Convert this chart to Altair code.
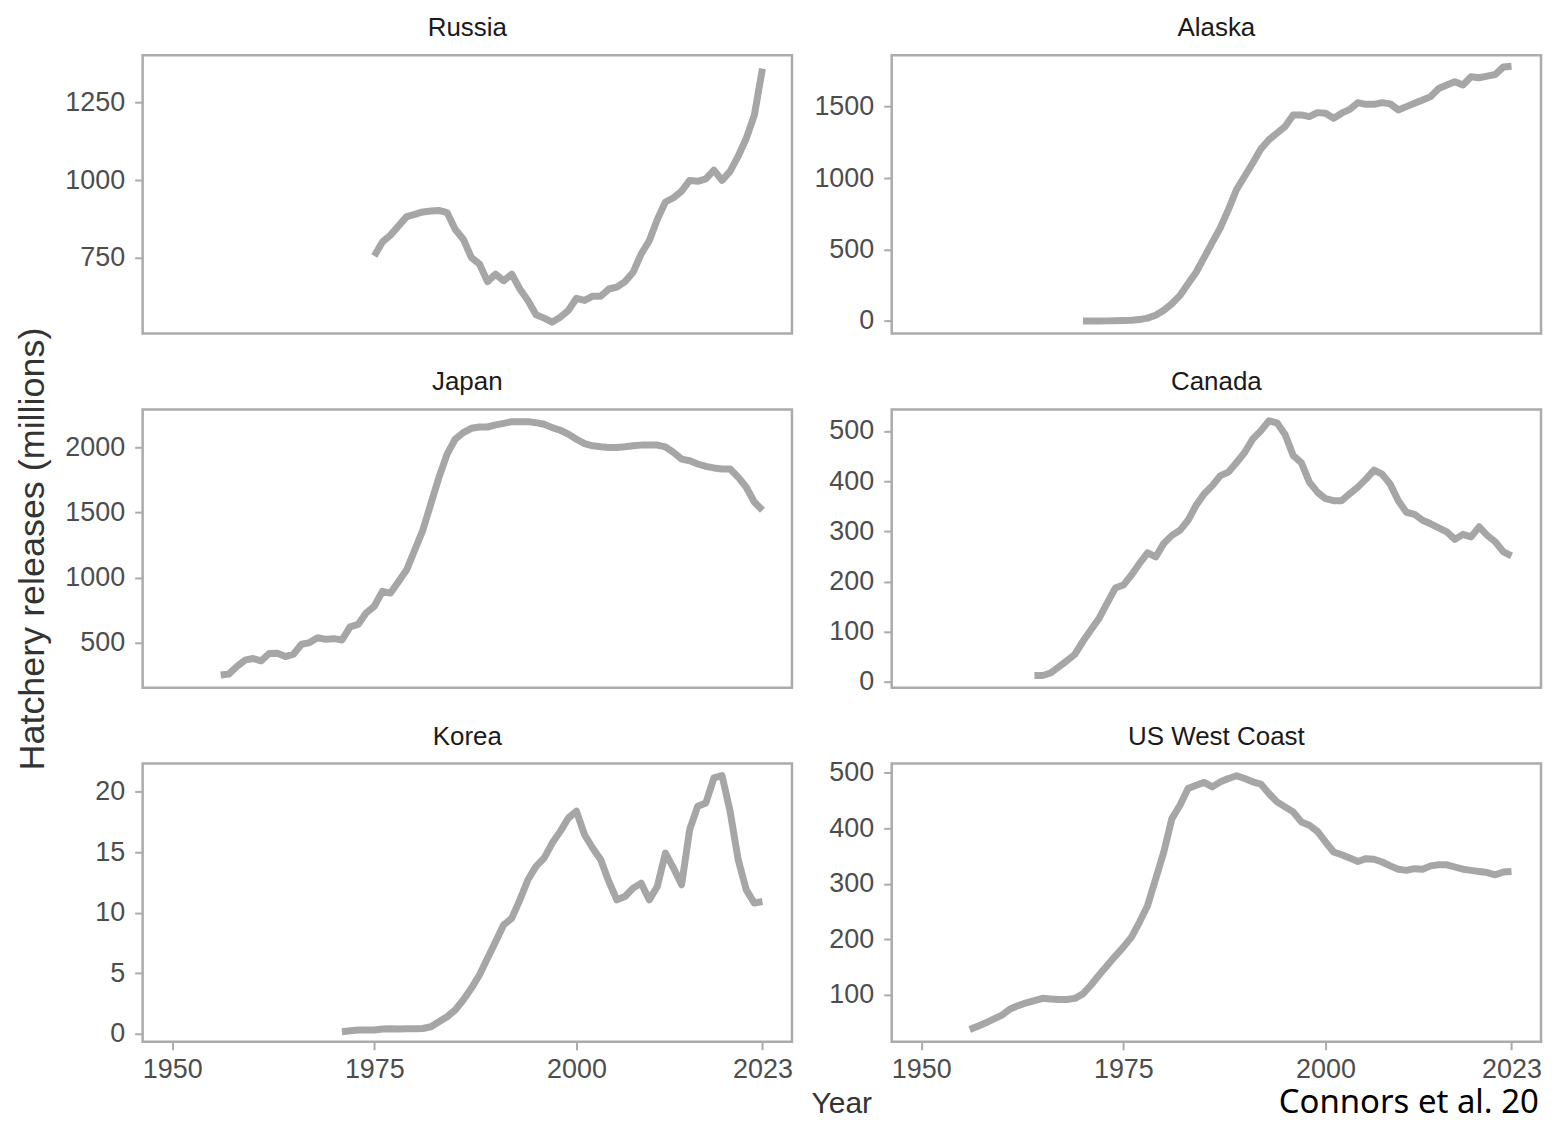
import altair as alt
import pandas as pd

FONT = "Liberation Sans"
LINE_COLOR = "#a6a6a6"
FRAME = "#ababab"

# ---- data (millions of hatchery releases) ----
russia_start = 1975
russia = [755, 800, 822, 852, 882, 889, 897, 900, 902, 895,
          841, 809, 750, 729, 672, 696, 675, 696, 648, 611,
          565, 554, 541, 557, 579, 618, 611, 625, 625, 648,
          654, 672, 702, 761, 804, 873, 929, 943, 964, 999,
          996, 1004, 1032, 999, 1028, 1077, 1135, 1210, 1360]

alaska_start = 1970
alaska = [0, 0, 0, 1, 2, 3, 5, 10, 20, 40,
          75, 121, 179, 260, 341, 445, 550, 654, 781, 920,
          1013, 1106, 1203, 1268, 1315, 1361, 1442, 1442, 1430, 1458,
          1454, 1419, 1454, 1481, 1528, 1516, 1516, 1528, 1519, 1477,
          1500, 1523, 1546, 1570, 1627, 1651, 1674, 1651, 1709, 1702,
          1713, 1725, 1778, 1783]

japan_start = 1956
japan = [254, 261, 320, 368, 381, 363, 419, 421, 396, 414,
         490, 503, 541, 528, 533, 523, 624, 642, 731, 782,
         896, 883, 972, 1061, 1213, 1366, 1569, 1772, 1949, 2063,
         2114, 2147, 2157, 2157, 2173, 2185, 2198, 2198, 2198, 2190,
         2178, 2152, 2132, 2102, 2063, 2030, 2013, 2005, 2000, 2000,
         2005, 2013, 2018, 2018, 2018, 2005, 1962, 1911, 1898, 1873,
         1855, 1843, 1835, 1835, 1772, 1695, 1581, 1518]

canada_start = 1964
canada = [13, 13, 18, 30, 42, 55, 81, 104, 127, 157,
          187, 193, 213, 236, 257, 249, 276, 292, 302, 322,
          352, 375, 391, 411, 418, 437, 457, 484, 500, 520,
          516, 493, 451, 437, 398, 378, 365, 361, 361, 375,
          388, 404, 422, 414, 394, 361, 338, 334, 322, 315,
          307, 299, 284, 294, 289, 309, 292, 279, 259, 251]

korea_start = 1971
korea = [0.14, 0.22, 0.28, 0.28, 0.28, 0.36, 0.39, 0.36, 0.39, 0.39,
         0.41, 0.55, 0.97, 1.38, 1.94, 2.77, 3.73, 4.84, 6.22, 7.6,
         8.99, 9.54, 11.06, 12.72, 13.83, 14.52, 15.76, 16.73, 17.84, 18.39,
         16.45, 15.35, 14.38, 12.58, 11.06, 11.34, 12.03, 12.44, 11.06, 12.17,
         14.93, 13.69, 12.31, 16.87, 18.81, 19.08, 21.16, 21.35, 18.39, 14.38,
         11.89, 10.79, 10.92]

uswc_start = 1956
uswc = [38, 44, 50, 57, 64, 75, 81, 86, 90, 94,
        93, 92, 92, 94, 102, 118, 136, 153, 170, 186,
        204, 231, 261, 309, 357, 417, 441, 471, 477, 482,
        474, 483, 489, 494, 489, 483, 479, 462, 447, 438,
        429, 411, 405, 394, 375, 357, 352, 346, 340, 345,
        344, 339, 332, 326, 324, 327, 326, 332, 334, 334,
        330, 326, 324, 322, 320, 316, 321, 322]

x_domain = [1946.35, 2026.65]
x_ticks = [1950, 1975, 2000, 2023]

y_domains = {
    "Russia": [504, 1403],
    "Alaska": [-88, 1859],
    "Japan": [157, 2292],
    "Canada": [-11.3, 542.8],
    "Korea": [-0.69, 22.35],
    "US West Coast": [16, 516],
}
y_ticks = {
    "Russia": [750, 1000, 1250],
    "Alaska": [0, 500, 1000, 1500],
    "Japan": [500, 1000, 1500, 2000],
    "Canada": [0, 100, 200, 300, 400, 500],
    "Korea": [0, 5, 10, 15, 20],
    "US West Coast": [100, 200, 300, 400, 500],
}

y_title = "Hatchery releases (millions)"
x_title = "Year"
caption = "Connors et al. 2025"

W, H = 651, 279
one_row = pd.DataFrame({"k": [0]})


def panel(name, start, values, bottom=False, show_ytitle=False, xaxis_title=False, extra=None):
    df = pd.DataFrame({"Year": list(range(start, start + len(values))), "Releases": values})
    if bottom:
        if xaxis_title:
            xaxis = alt.Axis(values=x_ticks, format="d", labelPadding=7,
                             title=x_title, titleX=700.5, titleY=71,
                             titleAlign="center", titleBaseline="alphabetic",
                             titleFont=FONT, titleFontSize=30,
                             titleFontWeight="normal", titleColor="#333333")
        else:
            xaxis = alt.Axis(values=x_ticks, format="d", labelPadding=7, title=None)
        xenc = alt.X("Year:Q", scale=alt.Scale(domain=x_domain, nice=False, zero=False), axis=xaxis)
    else:
        xenc = alt.X("Year:Q", scale=alt.Scale(domain=x_domain, nice=False, zero=False), axis=None)

    if show_ytitle:
        yaxis = alt.Axis(values=y_ticks[name], format="d", minExtent=80, maxExtent=80, title=y_title,
                         titlePadding=11, titleFont=FONT, titleFontSize=36,
                         titleFontWeight="normal", titleColor="#333333")
    else:
        yaxis = alt.Axis(values=y_ticks[name], format="d", minExtent=80, maxExtent=80, title=None)
    yenc = alt.Y("Releases:Q", scale=alt.Scale(domain=y_domains[name], nice=False, zero=False), axis=yaxis)

    line = alt.Chart(df).mark_line(color=LINE_COLOR, strokeWidth=7, strokeJoin="round").encode(x=xenc, y=yenc)
    label = alt.Chart(one_row).mark_text(
        align="center", baseline="alphabetic", font=FONT, fontSize=26, color="#1a1a1a").encode(
        x=alt.value(W / 2), y=alt.value(-19), text=alt.value(name))
    layers = [line, label] + (extra or [])
    return alt.layer(*layers).properties(width=W, height=H)


# invisible anchors fixing the overall extent of the figure
anchor_tl = alt.Chart(one_row).mark_rule(strokeWidth=0, opacity=0).encode(
    x=alt.value(-133), x2=alt.value(-133), y=alt.value(-44), y2=alt.value(-44))
anchor_br = alt.Chart(one_row).mark_rule(strokeWidth=0, opacity=0).encode(
    x=alt.value(654), x2=alt.value(654), y=alt.value(0), y2=alt.value(0))
caption_mark = alt.Chart(one_row).mark_text(
    align="left", baseline="alphabetic", font="Noto Sans", fontSize=33,
    color="#000000", limit=264, ellipsis="\u200b").encode(
    x=alt.value(388), y=alt.value(350), text=alt.value(caption))

p_russia = panel("Russia", russia_start, russia, extra=[anchor_tl])
p_alaska = panel("Alaska", alaska_start, alaska)
p_japan = panel("Japan", japan_start, japan, show_ytitle=True)
p_canada = panel("Canada", canada_start, canada)
p_korea = panel("Korea", korea_start, korea, bottom=True, xaxis_title=True)
p_uswc = panel("US West Coast", uswc_start, uswc, bottom=True, extra=[caption_mark, anchor_br])

chart = alt.concat(
    p_russia, p_alaska, p_japan, p_canada, p_korea, p_uswc,
    columns=2, spacing={"row": 76, "column": 100}, bounds="flush",
).properties(
    padding={"left": 0, "top": 0, "right": 0, "bottom": -4},
).configure_view(
    stroke=FRAME, strokeWidth=2.5,
).configure_axis(
    domain=False, grid=False, ticks=True, tickColor=FRAME, tickWidth=2, tickSize=8,
    labelFont=FONT, labelFontSize=27, labelColor="#4d4d4d", labelFlush=False,
    labelOverlap=False,
).configure_axisY(
    labelPadding=10,
)

chart.save("out.html", embed_options={"renderer": "svg", "actions": False})
